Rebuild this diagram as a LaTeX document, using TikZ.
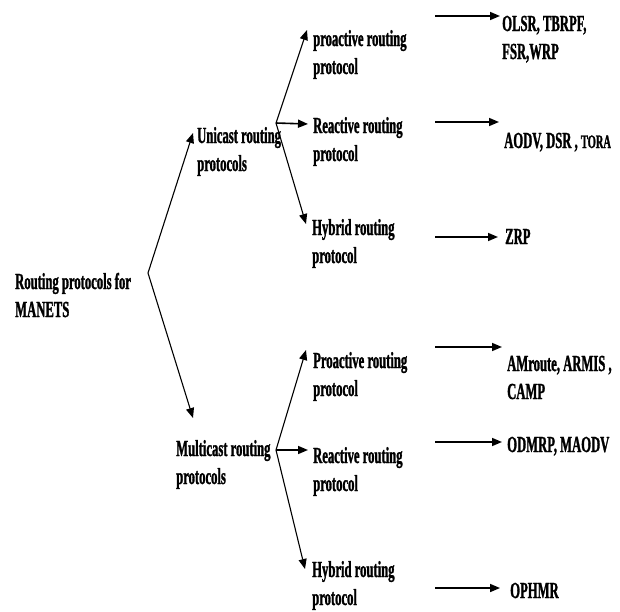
\documentclass[tikz,border=0pt]{standalone}
\usepackage{fontspec}
\setmainfont{Liberation Serif}[FakeStretch=0.55,FakeBold=1.2]
\usetikzlibrary{arrows.meta}
\newcommand{\mytwo}[2]{\begin{tabular}[t]{@{}l@{}}#1\\#2\end{tabular}}
\begin{document}
\begin{tikzpicture}[x=1pt,y=-1pt,
  lbl/.style={inner sep=0pt, anchor=base west, font=\fontsize{23}{28}\selectfont\bfseries},
  arr/.style={-{Triangle[length=10pt,width=8pt]}, line width=1.1pt},
  harr/.style={-{Triangle[length=10pt,width=8pt]}, line width=1.6pt}]
\useasboundingbox (0,0) rectangle (620,611);
% text nodes
\node[lbl] (root) at (15,289) {\mytwo{Routing protocols for}{MANETS}};
\node[lbl] (uni) at (197,143) {\mytwo{Unicast routing}{protocols}};
\node[lbl] (mul) at (176,456) {\mytwo{Multicast routing}{protocols}};
\node[lbl] (up) at (313,46) {\mytwo{proactive routing}{protocol}};
\node[lbl] (ur) at (313,133) {\mytwo{Reactive routing}{protocol}};
\node[lbl] (uh) at (312,235) {\mytwo{Hybrid routing}{protocol}};
\node[lbl] (mp) at (313,368) {\mytwo{Proactive routing}{protocol}};
\node[lbl] (mr) at (313,463) {\mytwo{Reactive routing}{protocol}};
\node[lbl] (mh) at (312,577) {\mytwo{Hybrid routing}{protocol}};
\node[lbl] (upx) at (502,31) {\mytwo{OLSR, TBRPF,}{FSR,WRP}};
\node[lbl] (urx) at (504,148) {AODV, DSR , {\fontsize{19}{22}\selectfont TORA}};
\node[lbl] (uhx) at (505,244) {ZRP};
\node[lbl] (mpx) at (507,371) {\mytwo{AMroute, ARMIS ,}{CAMP}};
\node[lbl] (mrx) at (507,452) {ODMRP, MAODV};
\node[lbl] (mhx) at (510,598) {OPHMR};
% coordinates
\coordinate (r0) at (148,273);
\coordinate (rt1) at (193,133);
\coordinate (rt2) at (193,418);
\coordinate (b1) at (276,123);
\coordinate (b1a) at (307,30);
\coordinate (b1b) at (308,124);
\coordinate (b1c) at (306,224);
\coordinate (b2) at (276,450);
\coordinate (b2a) at (306,350);
\coordinate (b2b) at (308,450);
\coordinate (b2c) at (305,569);
\coordinate (h1s) at (435,16);  \coordinate (h1e) at (500,16);
\coordinate (h2s) at (435,122); \coordinate (h2e) at (499,122);
\coordinate (h3s) at (435,237); \coordinate (h3e) at (498,237);
\coordinate (h4s) at (435,347); \coordinate (h4e) at (502,347);
\coordinate (h5s) at (435,442); \coordinate (h5e) at (502,442);
\coordinate (h6s) at (435,588); \coordinate (h6e) at (500,588);
% connectors
\draw[arr] (r0) -- (rt1);
\draw[arr] (r0) -- (rt2);
\draw[arr] (b1) -- (b1a);
\draw[harr] (b1) -- (b1b);
\draw[arr] (b1) -- (b1c);
\draw[arr] (b2) -- (b2a);
\draw[harr] (b2) -- (b2b);
\draw[arr] (b2) -- (b2c);
\draw[harr] (h1s) -- (h1e);
\draw[harr] (h2s) -- (h2e);
\draw[harr] (h3s) -- (h3e);
\draw[harr] (h4s) -- (h4e);
\draw[harr] (h5s) -- (h5e);
\draw[harr] (h6s) -- (h6e);
\end{tikzpicture}
\end{document}
